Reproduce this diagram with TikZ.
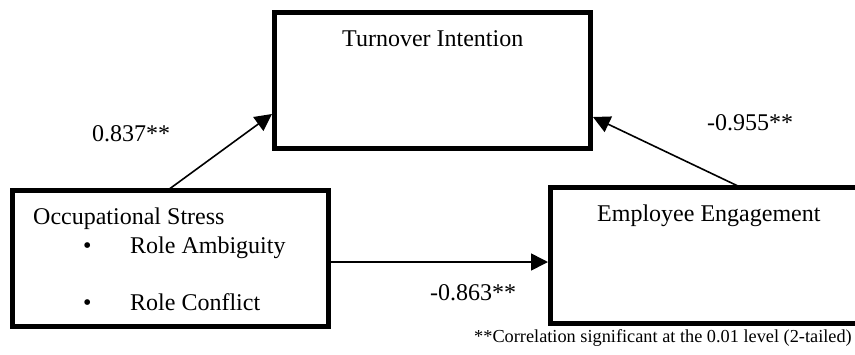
\documentclass[tikz,border=0pt]{standalone}
\usepackage{fontspec}
\setmainfont{Liberation Serif}
\usetikzlibrary{arrows.meta}
\tikzset{
  box/.style={draw=black, line width=5pt, outer sep=0pt, inner sep=0pt, anchor=north west, fill=white},
  conn/.style={draw=black, line width=1.6pt, -{Triangle[length=17pt,width=17pt]}},
  txt/.style={anchor=base west, inner sep=0pt, font=\fontsize{24}{28}\selectfont},
  note/.style={anchor=base west, inner sep=0pt, font=\fontsize{18.3}{22}\selectfont}
}
\begin{document}
\begin{tikzpicture}[x=1pt,y=-1pt]
\useasboundingbox (0,0) rectangle (855,354);
% boxes
\node[box, minimum width=316pt, minimum height=136pt] (ti) at (274.5,12) {};
\node[box, minimum width=315.5pt, minimum height=136pt] (os) at (12.5,190) {};
\node[box, minimum width=329.5pt, minimum height=136.5pt] (ee) at (550.5,187) {};
% box texts
\node[txt] (tit) at (342,46) {Turnover Intention};
\node[txt] (ost) at (33,224) {Occupational Stress};
\node[txt] (b1) at (83,253) {•};
\node[txt] (ra) at (130,253) {Role Ambiguity};
\node[txt] (b2) at (83,310) {•};
\node[txt] (rc) at (130,310) {Role Conflict};
\node[txt] (eet) at (597,221) {Employee Engagement};
% connectors
\coordinate (a1) at ([xshift=155.5pt]os.north west);
\coordinate (a2) at ([xshift=-2.5pt,yshift=-34pt]ti.west);
\draw[conn] (a1) -- (a2);
\coordinate (c1) at ([xshift=189.5pt]ee.north west);
\coordinate (c2) at ([xshift=2.5pt,yshift=-37pt]ti.east);
\draw[conn] (c1) -- (c2);
\coordinate (h1) at ([xshift=2.5pt,yshift=-4pt]os.east);
\coordinate (h2) at ([xshift=-2.5pt]h1 -| ee.west);
\draw[conn] (h1) -- (h2);
% labels
\node[txt] (l1) at (92,141) {0.837**};
\node[txt] (l2) at (707,130) {-0.955**};
\node[txt] (l3) at (430,300) {-0.863**};
\node[note] (fn) at (474,342) {**Correlation significant at the 0.01 level (2-tailed)};
\end{tikzpicture}
\end{document}
